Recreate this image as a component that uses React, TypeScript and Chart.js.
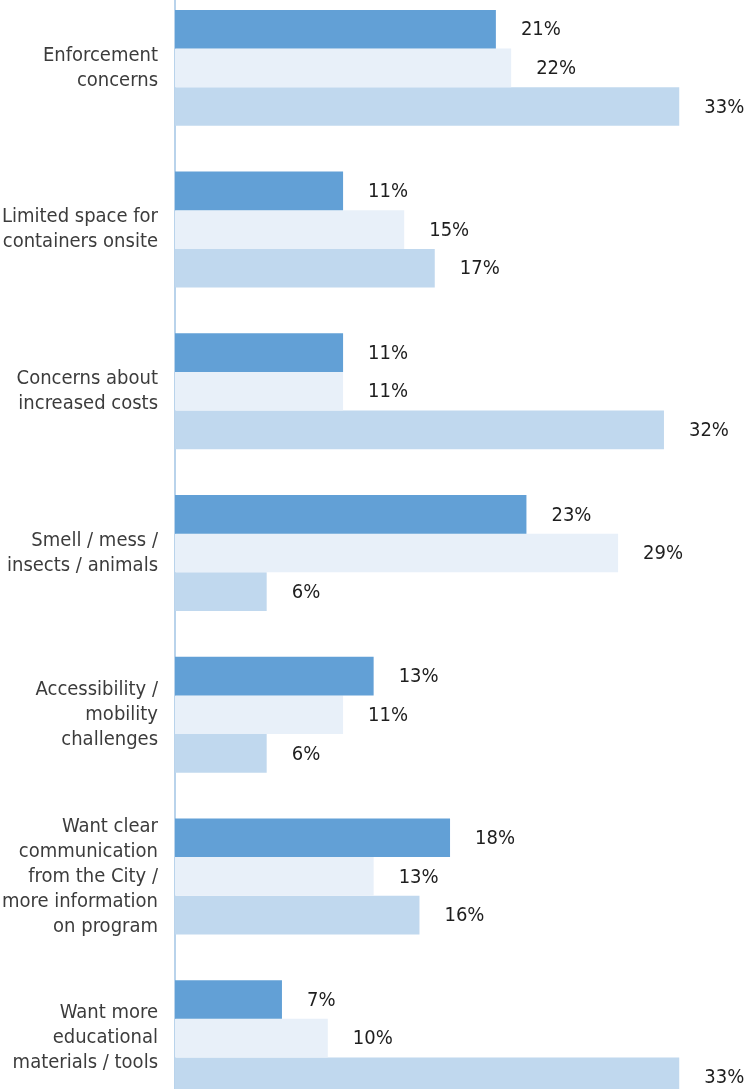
import React, { useEffect, useRef } from "react";
import { Chart, registerables } from "chart.js";

Chart.register(...registerables);

const categories: string[][] = [
  ["Enforcement", "concerns"],
  ["Limited space for", "containers onsite"],
  ["Concerns about", "increased costs"],
  ["Smell / mess /", "insects / animals"],
  ["Accessibility /", "mobility", "challenges"],
  ["Want clear", "communication", "from the City /", "more information", "on program"],
  ["Want more", "educational", "materials / tools"],
];

const seriesA = [21, 11, 11, 23, 13, 18, 7];
const seriesB = [22, 15, 11, 29, 11, 13, 10];
const seriesC = [33, 17, 32, 6, 6, 16, 33];

const FONT = '"DejaVu Sans Condensed", "Liberation Sans Narrow", "Liberation Sans", sans-serif';

const valueLabels = {
  id: "valueLabels",
  afterDatasetsDraw(chart: any) {
    const ctx = chart.ctx;
    ctx.save();
    ctx.font = `20px ${FONT}`;
    ctx.fillStyle = "#1e1e1e";
    ctx.textAlign = "left";
    ctx.textBaseline = "middle";
    chart.data.datasets.forEach((ds: any, di: number) => {
      const meta = chart.getDatasetMeta(di);
      meta.data.forEach((bar: any, i: number) => {
        ctx.fillText(`${ds.data[i]}%`, bar.x + 25, bar.y + 1);
      });
    });
    ctx.restore();
  },
};

export default function App() {
  const ref = useRef<HTMLCanvasElement>(null);
  useEffect(() => {
    if (!ref.current) return;
    const chart = new Chart(ref.current, {
      type: "bar",
      data: {
        labels: categories,
        datasets: [
          { data: seriesA, backgroundColor: "#62a0d6", categoryPercentage: 0.717, barPercentage: 1 },
          { data: seriesB, backgroundColor: "#e8f0f9", categoryPercentage: 0.717, barPercentage: 1 },
          { data: seriesC, backgroundColor: "#c0d8ee", categoryPercentage: 0.717, barPercentage: 1 },
        ],
      },
      options: {
        indexAxis: "y",
        animation: false,
        responsive: true,
        maintainAspectRatio: false,
        layout: { padding: 0 },
        plugins: { legend: { display: false }, tooltip: { enabled: false } },
        scales: {
          x: {
            display: false,
            min: 0,
            max: 37.5,
          },
          y: {
            grid: { display: false, drawTicks: false },
            border: { display: true, color: "#b9d3eb", width: 2 },
            ticks: {
              padding: 17,
              color: "#3c3c3c",
              font: { family: FONT, size: 20, lineHeight: 1.25 },
            },
            afterFit: (scale: any) => {
              scale.width = 175;
              scale.paddingTop = 0;
              scale.paddingBottom = 0;
            },
          },
        },
      },
      plugins: [valueLabels],
    });
    return () => chart.destroy();
  }, []);
  return (
    <div style={{ position: "fixed", left: 0, top: 0, width: 748, height: 1089, overflow: "hidden", background: "#fff" }}>
      <div style={{ position: "absolute", left: 0, top: -13, width: 748, height: 1132 }}>
        <canvas ref={ref} />
      </div>
    </div>
  );
}
